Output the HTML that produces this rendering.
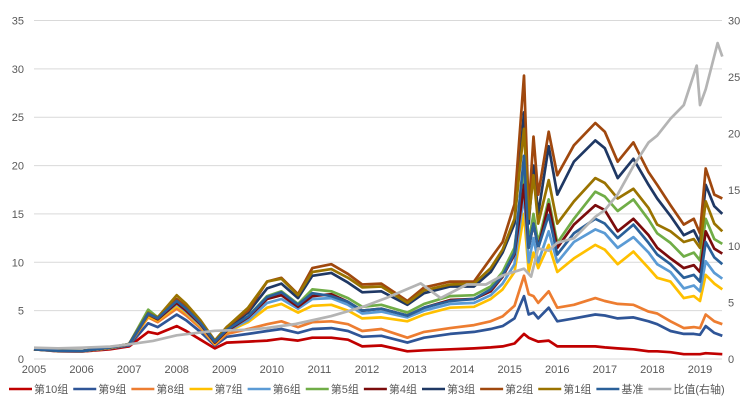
<!DOCTYPE html>
<html><head><meta charset="utf-8">
<style>
body{margin:0;background:#fff;width:753px;height:402px;overflow:hidden;font-family:"Liberation Sans","Noto Sans CJK SC",sans-serif;}
svg text{font-family:"Liberation Sans","Noto Sans CJK SC",sans-serif;fill:#595959;font-size:11px;}
</style></head><body>
<svg id="chart" width="753" height="402"></svg>
<script>
const years = [2005,2006,2007,2008,2009,2010,2011,2012,2013,2014,2015,2016,2017,2018,2019];
const leftTicks = [0,5,10,15,20,25,30,35];
const rightTicks = [0,5,10,15,20,25,30];
const T = [2005.0,2005.5,2006.0,2006.6,2007.0,2007.4,2007.6,2008.0,2008.2,2008.5,2008.8,2009.05,2009.5,2009.9,2010.2,2010.55,2010.85,2011.25,2011.6,2011.9,2012.3,2012.85,2013.2,2013.75,2014.25,2014.6,2014.85,2015.1,2015.3,2015.4,2015.5,2015.6,2015.82,2016.0,2016.35,2016.8,2017.0,2017.27,2017.6,2017.92,2018.1,2018.38,2018.66,2018.87,2019.0,2019.12,2019.3,2019.47];
const g10 = [1,0.8,0.78,1.0,1.3,2.8,2.6,3.4,2.9,2.0,1.1,1.7,1.8,1.9,2.1,1.9,2.2,2.2,2.0,1.3,1.4,0.8,0.9,1.0,1.1,1.2,1.3,1.6,2.6,2.2,2.0,1.8,1.9,1.3,1.3,1.3,1.2,1.1,1.0,0.8,0.8,0.7,0.5,0.5,0.5,0.6,0.55,0.5];
const g9 = [1,0.82,0.8,1.1,1.4,3.7,3.3,4.6,4.0,2.8,1.4,2.3,2.6,2.9,3.1,2.7,3.1,3.2,2.9,2.3,2.4,1.7,2.2,2.6,2.8,3.1,3.4,4.2,6.5,4.6,4.8,4.2,5.3,3.9,4.2,4.6,4.5,4.2,4.3,3.9,3.6,2.9,2.6,2.6,2.5,3.4,2.7,2.4];
const g8 = [1,0.83,0.8,1.15,1.5,4.3,3.8,5.2,4.5,3.2,1.5,2.6,3.1,3.6,3.9,3.3,3.8,3.9,3.6,2.9,3.1,2.2,2.8,3.2,3.5,3.9,4.4,5.5,8.6,6.7,6.5,5.8,7.0,5.3,5.6,6.3,6.0,5.7,5.6,4.9,4.7,3.9,3.2,3.3,3.2,4.6,3.9,3.6];
const g7 = [1,0.84,0.8,1.15,1.5,4.4,4.0,5.5,4.8,3.4,1.6,2.8,3.8,5.3,5.7,4.8,5.5,5.6,5.0,4.2,4.3,3.9,4.6,5.3,5.4,6.2,7.2,9.0,15,9,11,9.4,11.8,9.0,10.4,11.8,11.3,9.8,11.1,9.4,8.4,8.0,6.3,6.5,6.0,8.7,7.8,7.2];
const g6 = [1,0.85,0.82,1.2,1.5,4.6,4.1,5.7,4.9,3.5,1.7,2.9,4.0,5.8,6.2,5.2,6.2,6.3,5.6,4.7,4.9,4.3,5.0,5.7,5.8,6.6,7.8,9.8,17,10,12.5,10,13.2,10,12.1,13.4,13.0,11.5,12.6,11.0,9.8,9.0,7.3,7.6,7.0,10.1,8.9,8.3];
const g5 = [1,0.85,0.82,1.2,1.55,5.1,4.3,6.0,5.2,3.7,1.8,3.0,4.4,6.5,7.0,5.7,7.2,7.0,6.3,5.4,5.6,4.8,5.7,6.5,6.6,7.5,9.0,11.5,19,12,15,12,16.5,12,14.5,17.3,16.8,15.3,16.5,14.4,13.0,12.0,10.6,11.0,10.2,14.5,12.4,11.9];
const g4 = [1,0.85,0.82,1.2,1.5,4.6,4.1,5.8,5.0,3.6,1.7,2.9,4.3,6.2,6.6,5.4,6.5,6.7,5.9,5.0,5.2,4.5,5.3,6.1,6.2,7.0,8.5,10.8,18,11.5,14,11.5,16,11.5,13.9,15.9,15.4,13.2,14.5,12.8,11.5,10.4,9.4,9.7,9.0,13.2,11.4,10.9];
const g3 = [1,0.85,0.82,1.2,1.55,4.7,4.2,6.1,5.3,3.8,1.8,3.1,4.8,7.3,7.8,6.3,8.6,8.9,7.9,6.9,7.0,5.6,6.8,7.5,7.5,9.0,11.0,14.0,25.5,14,20,15,22,17,20.4,22.6,21.8,18.7,20.7,18.0,16.6,14.8,12.8,13.3,12.0,18.0,15.8,15.0];
const g2 = [1,0.86,0.83,1.2,1.5,4.6,4.2,6.2,5.4,3.9,1.9,3.3,5.0,8.0,8.4,6.7,9.4,9.8,8.8,7.7,7.8,6.0,7.4,8.0,8.0,10.4,12.1,16.0,29.3,15.2,23,17,23.5,19,22.1,24.4,23.5,20.4,22.4,19.3,18.0,15.9,13.9,14.5,13.0,19.7,17.0,16.6];
const g1 = [1,0.86,0.83,1.2,1.55,4.8,4.3,6.6,5.7,4.0,1.9,3.3,5.3,8.0,8.3,6.6,9.0,9.3,8.4,7.4,7.5,5.8,7.1,7.7,7.8,9.4,11.3,14.5,23.8,14.5,19,14,18.5,14,16.3,18.7,18.2,16.6,17.6,15.6,13.9,13.2,12.1,12.4,11.5,16.3,14.0,13.2];
const base = [1,0.85,0.82,1.2,1.5,4.7,4.2,6.0,5.2,3.7,1.8,3.0,4.4,6.4,6.9,5.6,6.8,6.5,5.9,5.0,5.2,4.5,5.3,6.0,6.2,7.2,8.6,11.0,21,11.5,14,11.5,14.9,10.8,13.0,14.5,14.0,12.5,13.9,12.0,10.8,9.8,8.4,8.7,8.0,12.1,10.5,9.8];
const RT = [2005.0,2005.5,2006.0,2006.6,2007.0,2007.5,2008.0,2008.8,2009.5,2009.9,2010.5,2011.25,2011.9,2012.4,2012.85,2013.13,2013.55,2014.1,2014.5,2014.85,2015.3,2015.45,2015.6,2015.82,2016.0,2016.35,2016.8,2017.0,2017.27,2017.6,2017.92,2018.1,2018.38,2018.66,2018.93,2019.0,2019.12,2019.37,2019.47];
const ratio = [1.0,0.95,1.0,1.1,1.3,1.6,2.1,2.5,2.6,2.75,3.1,3.8,4.6,5.4,6.2,6.7,5.4,6.6,6.6,7.4,8.0,7.3,9.8,9.6,10.3,10.7,12.6,13.2,14.6,17.1,19.2,19.8,21.3,22.5,26.0,22.5,23.9,28.0,26.8];

const NS='http://www.w3.org/2000/svg';
const svg=document.getElementById('chart');
const X0=34,XS=47.57,Y0=359,YT=20.5;
const x=t=>X0+(t-2005)*XS;
const yL=v=>Y0-(v/35)*(Y0-YT);
const yR=v=>Y0-(v/30)*(Y0-YT);
function mk(tag,attrs){const e=document.createElementNS(NS,tag);for(const k in attrs)e.setAttribute(k,attrs[k]);svg.appendChild(e);return e;}
leftTicks.forEach(v=>{
  const l=mk('line',{x1:X0,x2:722,y1:yL(v),y2:yL(v),stroke:'#d9d9d9','stroke-width':1});
  
  
  const t=mk('text',{x:24,y:yL(v)+4,'text-anchor':'end'});t.textContent=v;
  
  
});
rightTicks.forEach(v=>{
  const t=mk('text',{x:728,y:yR(v)+4,'text-anchor':'start'});t.textContent=v;
  
  
});
years.forEach(yv=>{
  const t=mk('text',{x:x(yv),y:373,'text-anchor':'middle'});t.textContent=yv;
  
  
});
const series=[
 ['第10组',g10,'#c00000'],['第9组',g9,'#2f5597'],['第8组',g8,'#ed7d31'],['第7组',g7,'#ffc000'],
 ['第6组',g6,'#5b9bd5'],['第5组',g5,'#70ad47'],['第4组',g4,'#7b0c0c'],['第3组',g3,'#1f3864'],
 ['第2组',g2,'#a0480e'],['第1组',g1,'#9a7300'],['基准',base,'#2a6099']];
series.forEach(([n,d,c],i)=>{
  const p=mk('polyline',{points:d.map((v,j)=>x(T[j]).toFixed(1)+','+yL(v).toFixed(1)).join(' '),fill:'none',stroke:c,'stroke-width':2.7,'stroke-linejoin':'round'});
  
  
});
const rp=mk('polyline',{points:ratio.map((v,j)=>x(RT[j]).toFixed(1)+','+yR(v).toFixed(1)).join(' '),fill:'none',stroke:'#b4b4b4','stroke-width':2.7,'stroke-linejoin':'round'});


// legend
const legendItems=series.map(s=>[s[0],s[2]]).concat([['比值(右轴)','#b4b4b4']]);
let lx=9;
legendItems.forEach(([n,c])=>{
  const l=mk('line',{x1:lx,x2:lx+23,y1:389,y2:389,stroke:c,'stroke-width':2.5});
  
  
  const t=mk('text',{x:lx+25,y:393});t.textContent=n;
  
  
  lx+=25+t.getComputedTextLength()+5;
});
</script>
</body></html>
